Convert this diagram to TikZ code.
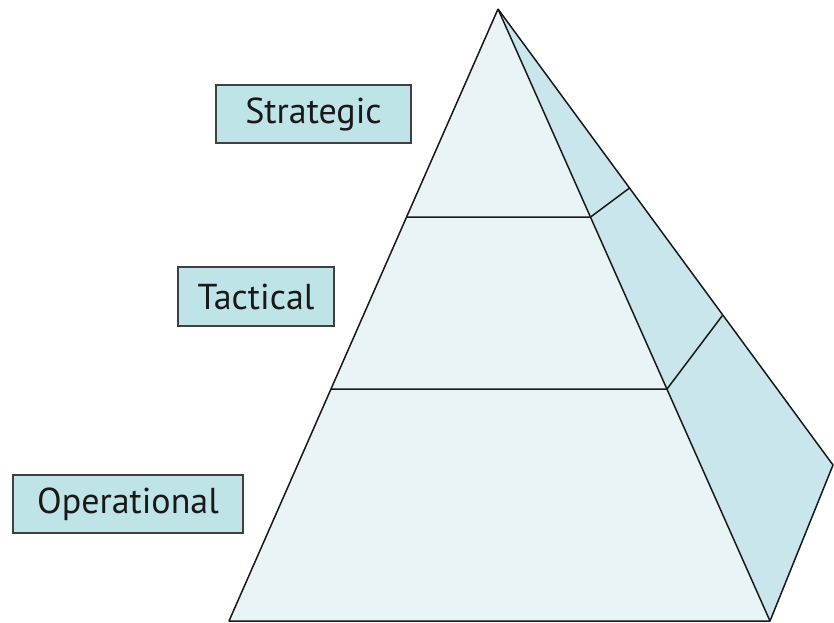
\documentclass[tikz,border=0pt]{standalone}
\usepackage{fontspec}
\setmainfont{PT Sans}
\definecolor{frontc}{RGB}{232,244,245}
\definecolor{sidec}{RGB}{200,230,236}
\definecolor{boxc}{RGB}{190,228,232}
\definecolor{edgec}{RGB}{25,25,25}
\begin{document}
\begin{tikzpicture}[x=1pt,y=-1pt,
  edge/.style={draw=edgec,line width=1.5pt,line join=round},
  label/.style={draw=black!75,line width=1.3pt,fill=boxc,inner sep=0pt,font=\fontsize{36}{42}\selectfont,text=black!90}]
\useasboundingbox (0,0) rectangle (834,622);
\coordinate (A) at (498,9);
\coordinate (BL) at (229,621);
\coordinate (BR) at (770,621);
\coordinate (BK) at (833,465);
\coordinate (L1) at (406.6,217);
\coordinate (R1) at (590.6,217);
\coordinate (S1) at (629.5,188);
\coordinate (L2) at (331,389);
\coordinate (R2) at (667,389);
\coordinate (S2) at (722.8,315);
\fill[sidec] (A) -- (BK) -- (BR) -- cycle;
\fill[frontc] (A) -- (BL) -- (BR) -- cycle;
\draw[edge] (A) -- (BL) -- (BR) -- (A);
\draw[edge] (BR) -- (BK) -- (A);
\draw[edge] (L1) -- (R1) -- (S1);
\draw[edge] (L2) -- (R2) -- (S2);
\node[label,minimum width=195,minimum height=58] (strat) at (313.5,114) {Strategic};
\node[label,minimum width=156,minimum height=59] (tact) at (256,296.5) {Tactical};
\node[label,minimum width=230,minimum height=58] (oper) at (128,504) {Operational};
\end{tikzpicture}
\end{document}
